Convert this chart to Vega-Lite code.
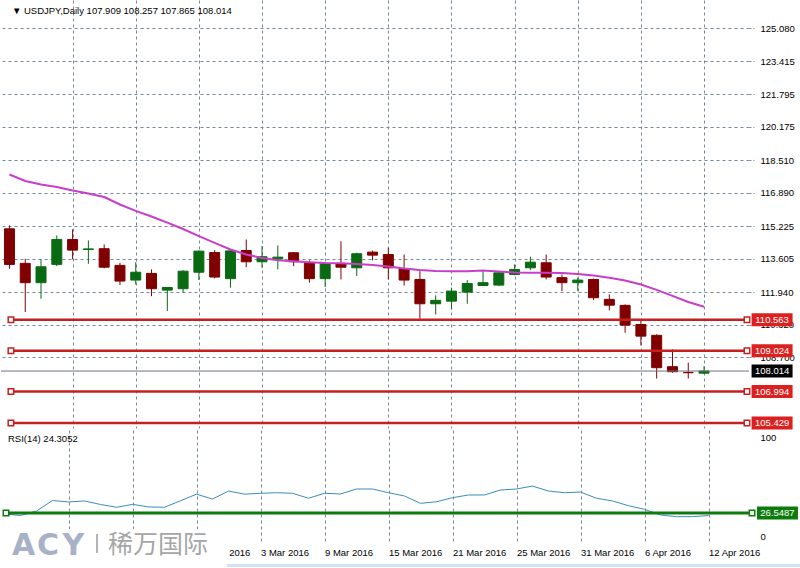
{
  "$schema": "https://vega.github.io/schema/vega-lite/v6.json",
  "padding": 0,
  "background": "#ffffff",
  "spacing": 2,
  "bounds": "flush",
  "config": {
    "view": {"stroke": null},
    "font": "Liberation Sans",
    "axis": {"labelFont": "Liberation Sans", "labelFontSize": 9.5, "labelColor": "#000000", "title": null, "domain": false, "gridColor": "#778899", "gridDash": [3, 3], "gridWidth": 1}
  },
  "datasets": {
    "bars": [
      {"i": 0, "d": "10 Feb 2016", "o": 115.09, "h": 115.26, "l": 113.10, "c": 113.32, "ma": 117.79, "rsi": 25.7},
      {"i": 1, "d": "11 Feb 2016", "o": 113.37, "h": 113.60, "l": 110.95, "c": 112.41, "ma": 117.47, "rsi": 24.3},
      {"i": 2, "d": "12 Feb 2016", "o": 112.41, "h": 113.57, "l": 111.61, "c": 113.20, "ma": 117.29, "rsi": 28.3},
      {"i": 3, "d": "15 Feb 2016", "o": 113.32, "h": 114.76, "l": 113.23, "c": 114.56, "ma": 117.17, "rsi": 37.6},
      {"i": 4, "d": "16 Feb 2016", "o": 114.56, "h": 115.06, "l": 113.57, "c": 114.03, "ma": 117.00, "rsi": 36.3},
      {"i": 5, "d": "17 Feb 2016", "o": 114.06, "h": 114.51, "l": 113.35, "c": 114.09, "ma": 116.85, "rsi": 37.2},
      {"i": 6, "d": "18 Feb 2016", "o": 114.10, "h": 114.31, "l": 113.12, "c": 113.18, "ma": 116.67, "rsi": 34.1},
      {"i": 7, "d": "19 Feb 2016", "o": 113.27, "h": 113.40, "l": 112.29, "c": 112.49, "ma": 116.30, "rsi": 31.6},
      {"i": 8, "d": "22 Feb 2016", "o": 112.54, "h": 113.43, "l": 112.32, "c": 112.93, "ma": 115.98, "rsi": 34.2},
      {"i": 9, "d": "23 Feb 2016", "o": 112.87, "h": 113.07, "l": 111.74, "c": 112.11, "ma": 115.70, "rsi": 31.9},
      {"i": 10, "d": "24 Feb 2016", "o": 112.04, "h": 112.20, "l": 111.00, "c": 112.17, "ma": 115.40, "rsi": 31.6},
      {"i": 11, "d": "25 Feb 2016", "o": 112.11, "h": 113.03, "l": 111.91, "c": 112.98, "ma": 115.08, "rsi": 37.4},
      {"i": 12, "d": "26 Feb 2016", "o": 112.93, "h": 114.01, "l": 112.54, "c": 113.98, "ma": 114.73, "rsi": 43.2},
      {"i": 13, "d": "29 Feb 2016", "o": 113.91, "h": 114.03, "l": 112.62, "c": 112.69, "ma": 114.39, "rsi": 38.9},
      {"i": 14, "d": "1 Mar 2016", "o": 112.61, "h": 114.06, "l": 112.16, "c": 113.99, "ma": 114.06, "rsi": 46.0},
      {"i": 15, "d": "2 Mar 2016", "o": 114.01, "h": 114.56, "l": 113.18, "c": 113.45, "ma": 113.81, "rsi": 43.2},
      {"i": 16, "d": "3 Mar 2016", "o": 113.45, "h": 114.23, "l": 113.15, "c": 113.70, "ma": 113.64, "rsi": 44.0},
      {"i": 17, "d": "4 Mar 2016", "o": 113.60, "h": 114.26, "l": 113.07, "c": 113.68, "ma": 113.52, "rsi": 44.5},
      {"i": 18, "d": "7 Mar 2016", "o": 113.90, "h": 113.93, "l": 113.23, "c": 113.45, "ma": 113.47, "rsi": 44.0},
      {"i": 19, "d": "8 Mar 2016", "o": 113.40, "h": 113.52, "l": 112.41, "c": 112.61, "ma": 113.43, "rsi": 39.6},
      {"i": 20, "d": "9 Mar 2016", "o": 112.61, "h": 113.40, "l": 112.19, "c": 113.35, "ma": 113.39, "rsi": 44.0},
      {"i": 21, "d": "10 Mar 2016", "o": 113.35, "h": 114.47, "l": 112.57, "c": 113.18, "ma": 113.38, "rsi": 43.4},
      {"i": 22, "d": "11 Mar 2016", "o": 113.15, "h": 113.90, "l": 112.74, "c": 113.85, "ma": 113.34, "rsi": 47.8},
      {"i": 23, "d": "14 Mar 2016", "o": 113.93, "h": 114.01, "l": 113.52, "c": 113.78, "ma": 113.29, "rsi": 47.8},
      {"i": 24, "d": "15 Mar 2016", "o": 113.81, "h": 114.15, "l": 112.57, "c": 113.15, "ma": 113.22, "rsi": 44.5},
      {"i": 25, "d": "16 Mar 2016", "o": 113.10, "h": 113.81, "l": 112.27, "c": 112.54, "ma": 113.12, "rsi": 41.6},
      {"i": 26, "d": "17 Mar 2016", "o": 112.57, "h": 112.98, "l": 110.62, "c": 111.36, "ma": 113.04, "rsi": 35.1},
      {"i": 27, "d": "18 Mar 2016", "o": 111.36, "h": 111.78, "l": 110.83, "c": 111.53, "ma": 112.99, "rsi": 36.5},
      {"i": 28, "d": "21 Mar 2016", "o": 111.49, "h": 112.16, "l": 111.08, "c": 111.99, "ma": 112.98, "rsi": 40.1},
      {"i": 29, "d": "22 Mar 2016", "o": 111.94, "h": 112.54, "l": 111.36, "c": 112.37, "ma": 112.98, "rsi": 42.5},
      {"i": 30, "d": "23 Mar 2016", "o": 112.27, "h": 112.98, "l": 112.25, "c": 112.41, "ma": 113.02, "rsi": 42.5},
      {"i": 31, "d": "24 Mar 2016", "o": 112.29, "h": 112.93, "l": 112.24, "c": 112.90, "ma": 112.97, "rsi": 46.9},
      {"i": 32, "d": "25 Mar 2016", "o": 112.82, "h": 113.32, "l": 112.78, "c": 113.07, "ma": 112.92, "rsi": 47.8},
      {"i": 33, "d": "28 Mar 2016", "o": 113.15, "h": 113.70, "l": 113.03, "c": 113.43, "ma": 112.90, "rsi": 50.4},
      {"i": 34, "d": "29 Mar 2016", "o": 113.40, "h": 113.81, "l": 112.57, "c": 112.69, "ma": 112.90, "rsi": 46.0},
      {"i": 35, "d": "30 Mar 2016", "o": 112.66, "h": 112.82, "l": 111.99, "c": 112.41, "ma": 112.89, "rsi": 44.5},
      {"i": 36, "d": "31 Mar 2016", "o": 112.41, "h": 112.66, "l": 111.99, "c": 112.54, "ma": 112.84, "rsi": 45.1},
      {"i": 37, "d": "1 Apr 2016", "o": 112.57, "h": 112.61, "l": 111.54, "c": 111.66, "ma": 112.77, "rsi": 39.6},
      {"i": 38, "d": "4 Apr 2016", "o": 111.58, "h": 111.83, "l": 111.03, "c": 111.29, "ma": 112.65, "rsi": 37.2},
      {"i": 39, "d": "5 Apr 2016", "o": 111.28, "h": 111.33, "l": 109.92, "c": 110.30, "ma": 112.52, "rsi": 33.0},
      {"i": 40, "d": "6 Apr 2016", "o": 110.33, "h": 110.58, "l": 109.29, "c": 109.75, "ma": 112.32, "rsi": 29.8},
      {"i": 41, "d": "7 Apr 2016", "o": 109.79, "h": 109.84, "l": 107.64, "c": 108.18, "ma": 112.05, "rsi": 24.8},
      {"i": 42, "d": "8 Apr 2016", "o": 108.23, "h": 109.09, "l": 107.93, "c": 107.98, "ma": 111.75, "rsi": 23.3},
      {"i": 43, "d": "11 Apr 2016", "o": 107.94, "h": 108.43, "l": 107.64, "c": 107.93, "ma": 111.45, "rsi": 23.3},
      {"i": 44, "d": "12 Apr 2016", "o": 107.909, "h": 108.257, "l": 107.865, "c": 108.014, "ma": 111.21, "rsi": 24.3052}
    ],
    "levels": [{"v": 110.563}, {"v": 109.024}, {"v": 106.994}, {"v": 105.429}],
    "price": [{"v": 108.014}],
    "rsilev": [{"v": 26.5487}],
    "one": [{}]
  },
  "vconcat": [
    {
      "width": 748,
      "height": 428,
      "layer": [
        {
          "data": {"name": "bars"},
          "mark": {"type": "rule", "strokeWidth": 1, "clip": true},
          "encoding": {
            "x": {"field": "i", "type": "quantitative", "scale": {"domain": [-0.21875, 46.53125], "nice": false, "zero": false},
              "axis": {"values": [0, 2, 4, 6, 8, 10, 12, 14, 16, 18, 20, 22, 24, 26, 28, 30, 32, 34, 36, 38, 40, 42, 44, 46], "labels": false, "ticks": false, "grid": true, "gridOpacity": {"condition": {"test": "datum.value == 0", "value": 0}, "value": 1}}},
            "y": {"field": "l", "type": "quantitative", "scale": {"domain": [105.18, 126.473], "nice": false, "zero": false},
              "axis": {"orient": "right", "values": [108.7, 110.32, 111.94, 113.605, 115.225, 116.89, 118.51, 120.175, 121.795, 123.415, 125.08], "format": ".3f", "grid": true, "ticks": true, "tickSize": 5, "tickColor": "#778899", "tickDash": [2, 2], "labelAlign": "left", "labelPadding": 6, "labelOverlap": false, "labelFlush": false}},
            "y2": {"field": "h"},
            "color": {"condition": {"test": "datum.c >= datum.o", "value": "#0a6a14"}, "value": "#800000"}
          }
        },
        {
          "data": {"name": "bars"},
          "mark": {"type": "bar", "size": 10, "strokeWidth": 1, "clip": true},
          "encoding": {
            "x": {"field": "i", "type": "quantitative"},
            "y": {"field": "o", "type": "quantitative"},
            "y2": {"field": "c"},
            "fill": {"condition": {"test": "datum.c >= datum.o", "value": "#0a6a14"}, "value": "#800000"},
            "stroke": {"condition": {"test": "datum.c >= datum.o", "value": "#0a6a14"}, "value": "#800000"}
          }
        },
        {
          "data": {"name": "bars"},
          "mark": {"type": "line", "stroke": "#c83ec8", "strokeWidth": 2},
          "encoding": {
            "x": {"field": "i", "type": "quantitative"},
            "y": {"field": "ma", "type": "quantitative"}
          }
        },
        {
          "data": {"name": "price"},
          "mark": {"type": "rule", "stroke": "#6b6f85", "strokeWidth": 1},
          "encoding": {"y": {"field": "v", "type": "quantitative"}}
        },
        {
          "data": {"name": "levels"},
          "mark": {"type": "rule", "stroke": "#c42020", "strokeWidth": 2.5},
          "encoding": {"x": {"datum": 0.094}, "x2": {"datum": 46.72}, "y": {"field": "v", "type": "quantitative"}}
        },
        {
          "data": {"name": "levels"},
          "mark": {"type": "point", "shape": "square", "size": 30, "filled": true, "fill": "#ffffff", "stroke": "#c42020", "strokeWidth": 1.5, "opacity": 1},
          "encoding": {"x": {"datum": 0.094}, "y": {"field": "v", "type": "quantitative"}}
        },
        {
          "data": {"name": "levels"},
          "mark": {"type": "point", "shape": "square", "size": 30, "filled": true, "fill": "#ffffff", "stroke": "#c42020", "strokeWidth": 1.5, "opacity": 1},
          "encoding": {"x": {"datum": 46.72}, "y": {"field": "v", "type": "quantitative"}}
        },
        {
          "data": {"name": "levels"},
          "mark": {"type": "tick", "orient": "horizontal", "size": 41, "thickness": 13, "color": "#dc1f1f", "opacity": 1},
          "encoding": {"x": {"datum": 48.31}, "y": {"field": "v", "type": "quantitative"}}
        },
        {
          "data": {"name": "levels"},
          "mark": {"type": "text", "fill": "#ffffff", "fontSize": 9.5, "font": "Liberation Sans", "align": "center", "baseline": "middle"},
          "encoding": {"x": {"datum": 48.31}, "y": {"field": "v", "type": "quantitative"}, "text": {"field": "v", "type": "quantitative", "format": ".3f"}}
        },
        {
          "data": {"name": "price"},
          "mark": {"type": "tick", "orient": "horizontal", "size": 41, "thickness": 13, "color": "#000000", "opacity": 1},
          "encoding": {"x": {"datum": 48.31}, "y": {"field": "v", "type": "quantitative"}}
        },
        {
          "data": {"name": "price"},
          "mark": {"type": "text", "fill": "#ffffff", "fontSize": 9.5, "font": "Liberation Sans", "align": "center", "baseline": "middle"},
          "encoding": {"x": {"datum": 48.31}, "y": {"field": "v", "type": "quantitative"}, "text": {"field": "v", "type": "quantitative", "format": ".3f"}}
        },
        {
          "data": {"name": "one"},
          "mark": {"type": "text", "text": "▼ USDJPY,Daily  107.909 108.257 107.865 108.014", "fill": "#000000", "fontSize": 9.5, "font": "Liberation Sans", "align": "left", "baseline": "alphabetic"},
          "encoding": {"x": {"datum": 0.156}, "y": {"datum": 125.78}}
        }
      ]
    },
    {
      "width": 748,
      "height": 113,
      "layer": [
        {
          "data": {"name": "bars"},
          "mark": {"type": "line", "stroke": "#3c8dbc", "strokeWidth": 1},
          "encoding": {
            "x": {"field": "i", "type": "quantitative", "scale": {"domain": [-0.21875, 46.53125], "nice": false, "zero": false},
              "axis": {"values": [0, 2, 4, 6, 8, 10, 12, 14, 16, 18, 20, 22, 24, 26, 28, 30, 32, 34, 36, 38, 40, 42, 44, 46], "ticks": false, "grid": true, "gridOpacity": {"condition": {"test": "datum.value == 0", "value": 0}, "value": 1}, "labelAlign": "left", "labelBaseline": "top", "labelPadding": 4, "labelDx": -1, "labelOverlap": false, "labelFlush": false, "labelBound": false,
                "labelExpr": "datum.value % 4 == 0 && datum.value <= 44 ? ['10 Feb 2016','16 Feb 2016','22 Feb 2016','26 Feb 2016','3 Mar 2016','9 Mar 2016','15 Mar 2016','21 Mar 2016','25 Mar 2016','31 Mar 2016','6 Apr 2016','12 Apr 2016'][datum.value / 4] : ''"}},
            "y": {"field": "rsi", "type": "quantitative", "scale": {"domain": [0, 100], "nice": false, "zero": false},
              "axis": {"orient": "right", "values": [0, 30, 70, 100], "grid": true, "gridOpacity": {"condition": {"test": "datum.value == 0 || datum.value == 100", "value": 0}, "value": 1}, "ticks": true, "tickSize": 5, "tickColor": "#778899", "tickDash": [2, 2], "tickOpacity": {"condition": {"test": "datum.value == 0 || datum.value == 100", "value": 0}, "value": 1}, "labelAlign": "left", "labelPadding": 6, "labelOverlap": false, "labelFlush": true, "labelFlushOffset": -2}}
          }
        },
        {
          "data": {"name": "rsilev"},
          "mark": {"type": "rule", "stroke": "#0d7a0d", "strokeWidth": 3},
          "encoding": {"x": {"datum": 0.094}, "x2": {"datum": 46.72}, "y": {"field": "v", "type": "quantitative"}}
        },
        {
          "data": {"name": "rsilev"},
          "mark": {"type": "point", "shape": "square", "size": 30, "filled": true, "fill": "#ffffff", "stroke": "#0d7a0d", "strokeWidth": 1.5, "opacity": 1},
          "encoding": {"x": {"datum": 0.094}, "y": {"field": "v", "type": "quantitative"}}
        },
        {
          "data": {"name": "rsilev"},
          "mark": {"type": "point", "shape": "square", "size": 30, "filled": true, "fill": "#ffffff", "stroke": "#0d7a0d", "strokeWidth": 1.5, "opacity": 1},
          "encoding": {"x": {"datum": 46.72}, "y": {"field": "v", "type": "quantitative"}}
        },
        {
          "data": {"name": "rsilev"},
          "mark": {"type": "tick", "orient": "horizontal", "size": 41, "thickness": 13, "color": "#0d7a0d", "opacity": 1},
          "encoding": {"x": {"datum": 48.31}, "y": {"field": "v", "type": "quantitative"}}
        },
        {
          "data": {"name": "rsilev"},
          "mark": {"type": "text", "fill": "#ffffff", "fontSize": 9.5, "font": "Liberation Sans", "align": "center", "baseline": "middle"},
          "encoding": {"x": {"datum": 48.31}, "y": {"field": "v", "type": "quantitative"}, "text": {"field": "v", "type": "quantitative", "format": ".4f"}}
        },
        {
          "data": {"name": "one"},
          "mark": {"type": "text", "text": "RSI(14) 24.3052", "fill": "#000000", "fontSize": 9.5, "font": "Liberation Sans", "align": "left", "baseline": "alphabetic"},
          "encoding": {"x": {"datum": 0.219}, "y": {"datum": 89.8}}
        },
        {
          "data": {"name": "one"},
          "mark": {"type": "rect", "fill": "#ffffff"},
          "encoding": {"x": {"datum": -0.21875}, "x2": {"datum": 13.9}, "y": {"datum": 12.4}, "y2": {"datum": -22}}
        },
        {
          "data": {"name": "one"},
          "mark": {"type": "rect", "fill": "#d3e1f0"},
          "encoding": {"x": {"datum": 13.9}, "x2": {"datum": 49.8}, "y": {"datum": -18.6}, "y2": {"datum": -21.2}}
        },
        {
          "data": {"name": "one"},
          "mark": {"type": "text", "text": "A", "font": "DejaVu Sans", "fontWeight": "bold", "fontSize": 30, "fill": "#a8b2c6", "align": "center", "baseline": "alphabetic"},
          "encoding": {"x": {"datum": 1.19}, "y": {"datum": -10.6}}
        },
        {
          "data": {"name": "one"},
          "mark": {"type": "text", "text": "C", "font": "DejaVu Sans", "fontWeight": "bold", "fontSize": 30, "fill": "#a8b2c6", "align": "center", "baseline": "alphabetic"},
          "encoding": {"x": {"datum": 2.72}, "y": {"datum": -10.6}}
        },
        {
          "data": {"name": "one"},
          "mark": {"type": "text", "text": "Y", "font": "DejaVu Sans", "fontWeight": "bold", "fontSize": 30, "fill": "#a8b2c6", "align": "center", "baseline": "alphabetic"},
          "encoding": {"x": {"datum": 4.31}, "y": {"datum": -10.6}}
        },
        {
          "data": {"name": "one"},
          "mark": {"type": "rule", "stroke": "#b4b4b4", "strokeWidth": 2},
          "encoding": {"x": {"datum": 5.78}, "y": {"datum": 8}, "y2": {"datum": -8.8}}
        },
        {
          "data": {"name": "one"},
          "mark": {"type": "text", "text": "稀万国际", "font": "Noto Sans CJK SC", "fontSize": 25, "fill": "#a6a6a6", "align": "left", "baseline": "alphabetic"},
          "encoding": {"x": {"datum": 6.47}, "y": {"datum": -8.5}}
        }
      ]
    }
  ]
}
